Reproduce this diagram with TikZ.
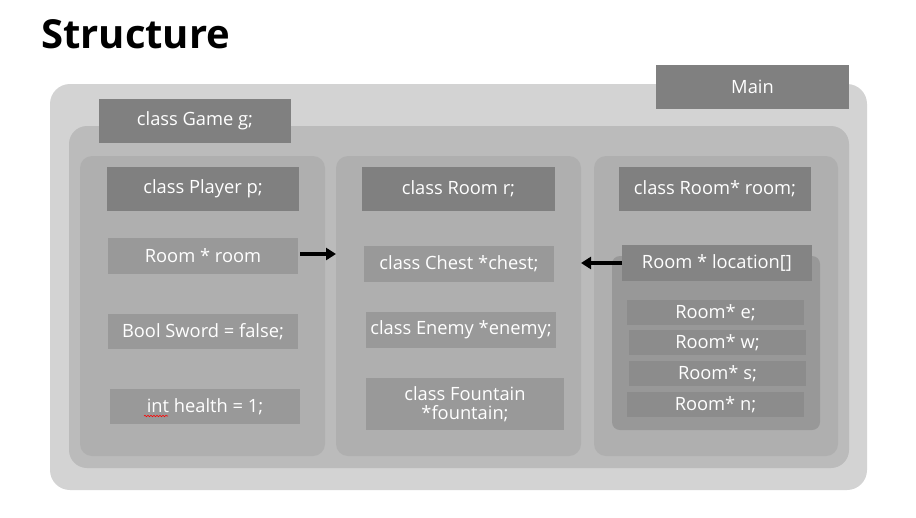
\documentclass[tikz,border=0pt]{standalone}
\usepackage{fontspec}
\setmainfont{Open Sans}
\usetikzlibrary{arrows.meta,decorations.pathmorphing}
\definecolor{cOuter}{RGB}{211,211,211}
\definecolor{cGame}{RGB}{187,187,187}
\definecolor{cCol}{RGB}{175,175,175}
\definecolor{cLabel}{RGB}{128,128,128}
\definecolor{cItem}{RGB}{153,153,153}
\definecolor{cInner}{RGB}{152,152,152}
\definecolor{cSub}{RGB}{140,140,140}
\definecolor{cLoc}{RGB}{132,132,132}
\tikzset{
  container/.style={fill=#1, draw=none, inner sep=0pt, outer sep=0pt},
  txtbox/.style={fill=#1, draw=none, text=white, inner sep=0pt, outer sep=0pt,
    font=\fontsize{18.3}{21}\selectfont, align=center, anchor=north west},
  arr/.style={line width=3.2pt, -{Triangle[length=10pt,width=12pt]}},
}
\newcommand{\tbox}[7]{% name, color, x, y, w, h, text
  \node[txtbox=#2, minimum width=#5pt, minimum height=#6pt] (#1) at (#3,#4) {#7};}
\begin{document}
\begin{tikzpicture}[x=1pt,y=-1pt]
\useasboundingbox (0,0) rectangle (916,517);
\fill[white] (0,0) rectangle (916,517);
% title
\node[anchor=west, font=\fontsize{40}{44}\selectfont\bfseries, inner sep=0pt] (title) at (41,34) {Structure};
% Main container
\path[container=cOuter, rounded corners=20pt] (50,84) rectangle (867,490);
\tbox{mainlbl}{cLabel}{656}{65}{193}{44}{Main}
% Game container
\path[container=cGame, rounded corners=18pt] (69,126) rectangle (849,468);
\tbox{gamelbl}{cLabel}{99}{99}{192}{44}{class Game g;}
% columns
\path[container=cCol, rounded corners=12pt] (80,156) rectangle (325,456);
\path[container=cCol, rounded corners=12pt] (336,156) rectangle (581,456);
\path[container=cCol, rounded corners=12pt] (594,156) rectangle (838,456);
\coordinate (colMW) at (336,306);
\coordinate (colME) at (581,306);
% column labels
\tbox{plbl}{cLabel}{107}{167}{192}{44}{class Player p;}
\tbox{rlbl}{cLabel}{362}{167}{193}{44}{class Room r;}
\tbox{rmlbl}{cLabel}{619}{167}{192}{44}{class Room* room;}
% left items
\tbox{proom}{cItem}{108}{238}{190}{36}{Room * room}
\tbox{psword}{cItem}{108}{314}{190}{35}{Bool Sword = false;}
\tbox{phealth}{cItem}{110}{389}{190}{35}{int health = 1;}
\draw[red, line width=0.6pt, decorate, decoration={snake, amplitude=0.7pt, segment length=3pt}]
  ([xshift=34pt,yshift=8pt]phealth.south west) -- ++(24,0);
% middle items
\tbox{chest}{cItem}{364}{246}{190}{36}{class Chest *chest;}
\tbox{enemy}{cItem}{366}{312}{190}{36}{class Enemy *enemy;}
\tbox{fountain}{cItem}{366}{378}{198}{52}{class Fountain\\[-2pt]*fountain;}
% right items
\path[container=cInner, rounded corners=8pt] (612,256) rectangle (820,430);
\tbox{loc}{cLoc}{622}{245}{190}{36}{Room * location[]}
\tbox{re}{cSub}{627}{300}{177}{25}{Room* e;}
\tbox{rw}{cSub}{629}{330}{177}{25}{Room* w;}
\tbox{rs}{cSub}{629}{361}{177}{25}{Room* s;}
\tbox{rn}{cSub}{627}{392}{177}{25}{Room* n;}
% arrows
\draw[arr] ([xshift=2pt,yshift=2pt]proom.east) -- ([yshift=2pt]proom.east -| colMW);
\draw[arr] (loc.west) -- (loc.west -| colME);
\end{tikzpicture}
\end{document}
